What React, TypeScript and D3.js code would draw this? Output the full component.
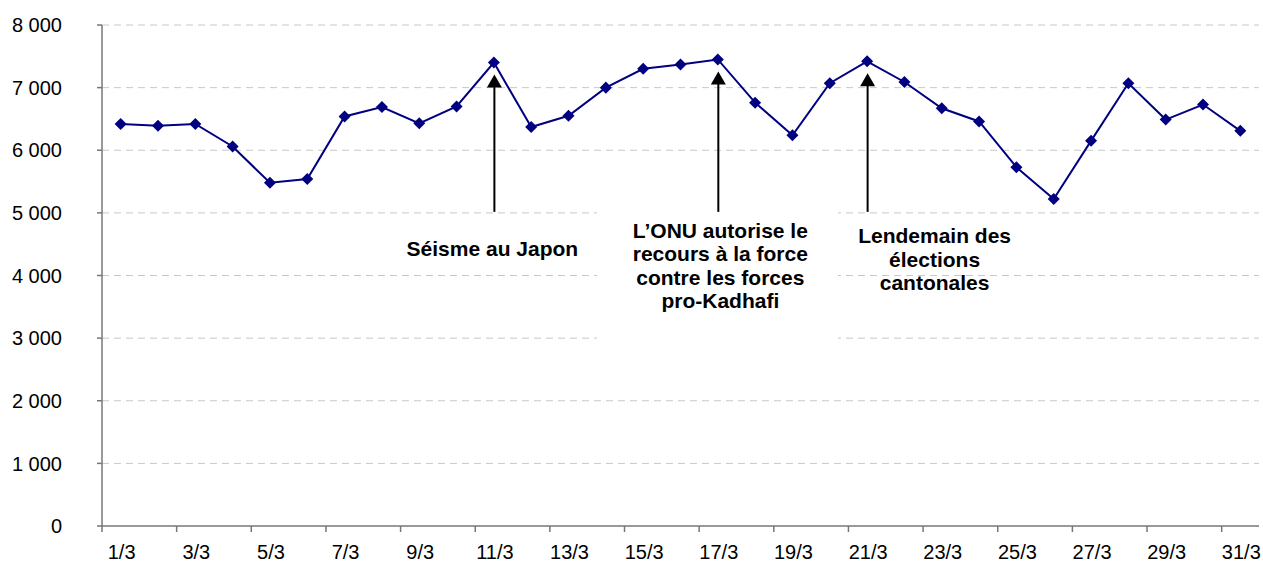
import React, { useEffect, useRef } from "react";
import * as d3 from "d3";

// daily values for March
const days = d3.range(1, 32).map((d) => `${d}/3`);
const values = [
  6420, 6390, 6420, 6060, 5480, 5540, 6540, 6690, 6430, 6700,
  7400, 6370, 6550, 7000, 7300, 7370, 7450, 6760, 6240, 7070,
  7420, 7090, 6670, 6460, 5730, 5220, 6150, 7070, 6490, 6730, 6310,
];
const yTicks = [0, 1000, 2000, 3000, 4000, 5000, 6000, 7000, 8000];

// events pointed to by arrows
const eventDays = ["11/3", "17/3", "21/3"];
const eventLines = [
  ["Séisme au Japon"],
  ["L\u2019ONU autorise le", "recours à la force", "contre les forces", "pro-Kadhafi"],
  ["Lendemain des", "élections", "cantonales"],
];

const W = 1263, H = 563;

export default function App() {
  const ref = useRef<SVGSVGElement>(null);

  useEffect(() => {
    const svg = d3.select(ref.current);
    svg.selectAll("*").remove();

    const left = 102, right = 1259, top = 25, bottom = 526;

    const x = d3.scaleBand().domain(days).range([left, right]).padding(0);
    const y = d3.scaleLinear().domain([0, 8000]).range([bottom, top]);
    const cx = (d: string) => (x(d) as number) + x.bandwidth() / 2;

    const fr = d3.formatLocale({ decimal: ",", thousands: " ", grouping: [3], currency: ["", " €"] });
    const fmt = fr.format(",");

    const font = "'Liberation Sans', Arial, sans-serif";

    // white box behind the middle annotation (hides gridlines)
    // gridlines
    svg.append("g").selectAll("line")
      .data(yTicks.filter((t) => t > 0))
      .join("line")
      .attr("x1", left).attr("x2", right)
      .attr("y1", (d) => y(d)).attr("y2", (d) => y(d))
      .attr("stroke", "#c8c8c8")
      .attr("stroke-width", 1)
      .attr("stroke-dasharray", "7,5");

    svg.append("rect")
      .attr("x", 597).attr("y", 205).attr("width", 241).attr("height", 140)
      .attr("fill", "#fff");

    // y axis
    const yg = svg.append("g");
    yg.append("line")
      .attr("x1", left).attr("x2", left).attr("y1", top).attr("y2", bottom)
      .attr("stroke", "#777").attr("stroke-width", 1.5);
    yg.selectAll(".tk").data(yTicks).join("line")
      .attr("x1", left - 5).attr("x2", left)
      .attr("y1", (d) => y(d)).attr("y2", (d) => y(d))
      .attr("stroke", "#777").attr("stroke-width", 1.5);
    yg.selectAll("text").data(yTicks).join("text")
      .attr("x", 62).attr("y", (d) => y(d))
      .attr("dy", "0.36em")
      .attr("text-anchor", "end")
      .attr("font-family", font).attr("font-size", 20)
      .attr("fill", "#000")
      .text((d) => fmt(d));

    // x axis
    const xg = svg.append("g");
    xg.append("line")
      .attr("x1", left).attr("x2", right).attr("y1", bottom).attr("y2", bottom)
      .attr("stroke", "#777").attr("stroke-width", 1.5);
    const tickIdx = d3.range(0, days.length, 2);
    xg.selectAll(".tk").data(tickIdx).join("line")
      .attr("x1", (i) => x(days[i]) as number).attr("x2", (i) => x(days[i]) as number)
      .attr("y1", bottom).attr("y2", bottom + 6)
      .attr("stroke", "#777").attr("stroke-width", 1.5);
    xg.selectAll("text").data(tickIdx).join("text")
      .attr("x", (i) => cx(days[i]) + 1).attr("y", 559)
      .attr("text-anchor", "middle")
      .attr("font-family", font).attr("font-size", 20)
      .attr("fill", "#000")
      .text((i) => days[i]);

    // line + diamond markers
    const line = d3.line<number>().x((_, i) => cx(days[i])).y((d) => y(d));
    svg.append("path").datum(values)
      .attr("d", line)
      .attr("fill", "none")
      .attr("stroke", "#000080")
      .attr("stroke-width", 2);
    const diamond = d3.symbol().type(d3.symbolDiamond2).size(92);
    svg.append("g").selectAll("path").data(values).join("path")
      .attr("d", diamond)
      .attr("transform", (d, i) => `translate(${cx(days[i])},${y(d)})`)
      .attr("fill", "#000080");

    // arrows + labels
    const textBase = [256, 237.5, 243];
    eventDays.forEach((d, k) => {
      const vi = days.indexOf(d);
      const ax = cx(d) + 0.5;
      const tipY = y(values[vi]) + 12;
      const baseY = y(5000) - 1;
      svg.append("line")
        .attr("x1", ax).attr("x2", ax).attr("y1", baseY).attr("y2", tipY + 10)
        .attr("stroke", "#000").attr("stroke-width", 2);
      svg.append("path")
        .attr("d", `M${ax},${tipY} L${ax - 7.5},${tipY + 13} L${ax + 7.5},${tipY + 13} Z`)
        .attr("fill", "#000");
      const t = svg.append("text")
        .attr("font-family", font).attr("font-size", 21).attr("font-weight", "bold")
        .attr("text-anchor", "middle").attr("fill", "#000");
      eventLines[k].forEach((ln, j) => {
        t.append("tspan")
          .attr("x", ax + (k === 1 ? 2 : k === 2 ? 67 : -2))
          .attr("y", textBase[k] + j * 23.5)
          .text(ln);
      });
    });
  }, []);

  return (
    <svg
      ref={ref}
      width={W}
      height={H}
      style={{ position: "absolute", left: 0, top: 0, background: "#fff" }}
    />
  );
}
